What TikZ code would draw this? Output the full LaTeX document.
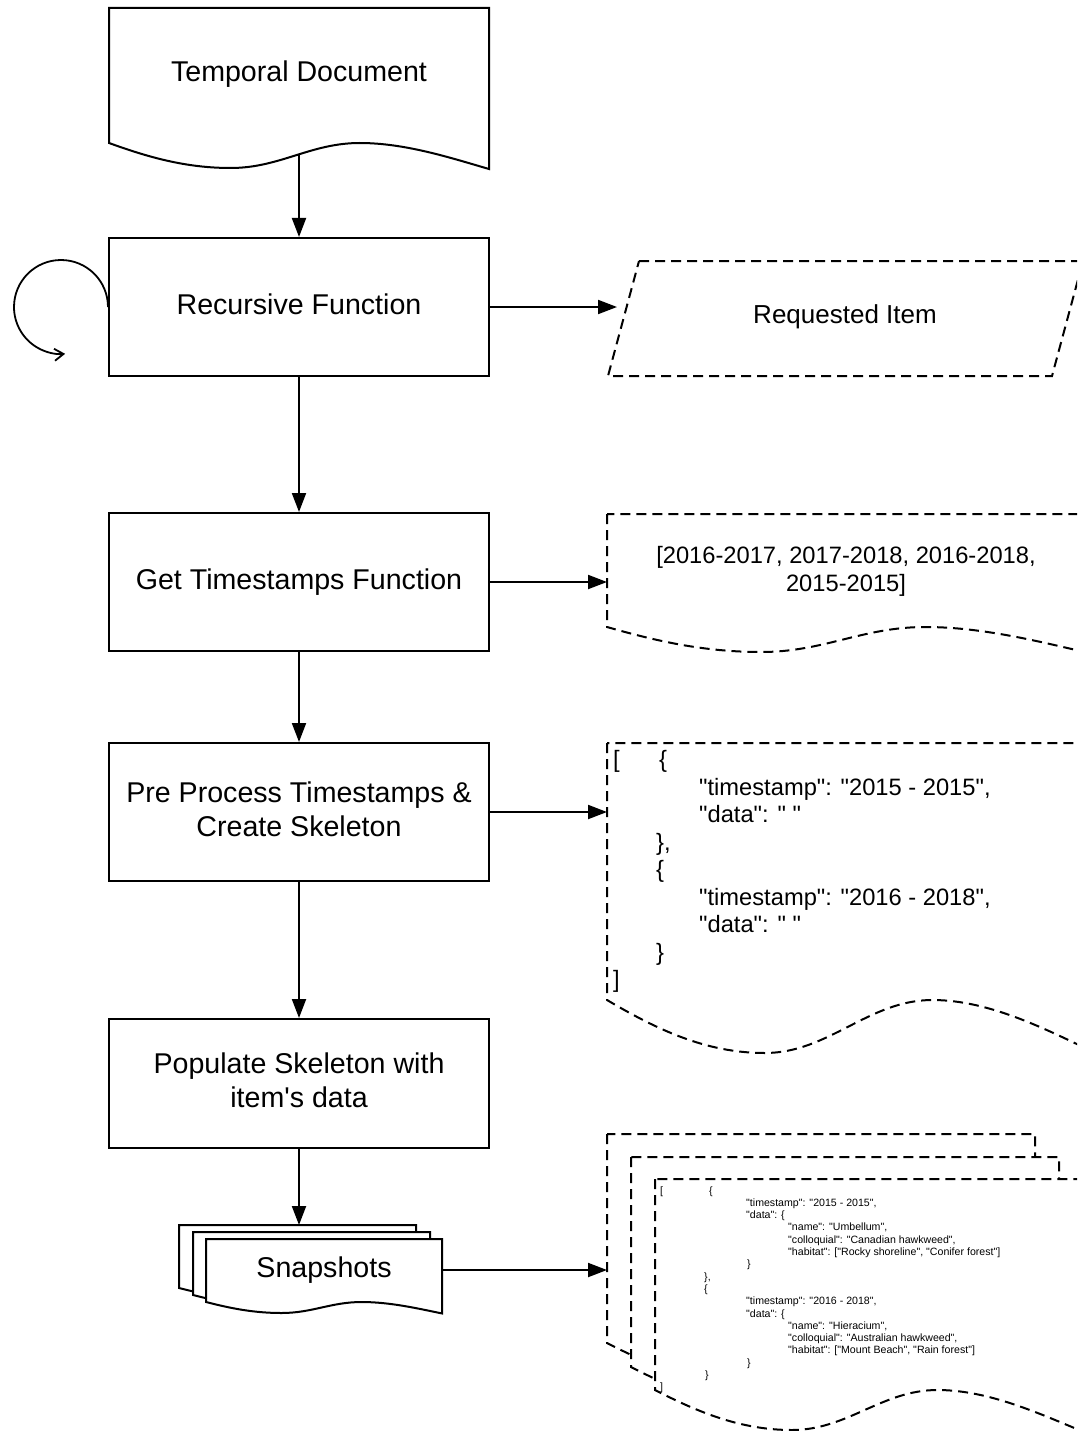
\documentclass[tikz,border=0pt]{standalone}
\usepackage{fontspec}
\newfontfamily\lsans{Liberation Sans}
\usetikzlibrary{arrows.meta}

% document shape with a wavy bottom edge:
% #1 style, #2 left x, #3 top y, #4 width, #5 y of the lower left corner, #6 wave depth
\newcommand\docshape[6]{%
  \path[#1] (#2,#3) -- (#2,#5)
    .. controls ({#2+0.10*#4},{#5+0.55*#6}) and ({#2+0.20*#4},{#5+#6}) .. ({#2+0.32*#4},{#5+#6})
    .. controls ({#2+0.45*#4},{#5+#6}) and ({#2+0.53*#4},#5) .. ({#2+0.66*#4},#5)
    .. controls ({#2+0.78*#4},#5) and ({#2+0.90*#4},{#5+0.60*#6}) .. ({#2+#4},{#5+1.04*#6})
    -- ({#2+#4},#3) -- cycle;}
% one line of a code listing, indented by #1 pt
\newcommand\jl[2]{\hbox{\kern#1pt\relax #2}}
% one centred line of zero width
\newcommand\cl[1]{\hbox to 0pt{\hss #1\hss}}

\begin{document}
\begin{tikzpicture}[x=1pt,y=-1pt,
  box/.style={draw, line width=2pt, minimum width=380pt, minimum height=138pt,
    inner sep=0pt, align=center, text depth=6pt,
    font=\lsans\fontsize{28.6pt}{34pt}\selectfont},
  flow/.style={line width=2pt, -{Triangle[length=19pt,width=14pt]}},
  docsolid/.style={draw, line width=2pt, fill=white},
  docdash/.style={draw, line width=2pt, dash pattern=on 10pt off 6pt, fill=white},
  bigtext/.style={inner sep=0pt, font=\lsans\fontsize{28.6pt}{34pt}\selectfont},
  midtext/.style={inner sep=0pt, font=\lsans\fontsize{23.7pt}{27.5pt}\selectfont},
  smalltext/.style={inner sep=0pt, font=\lsans\fontsize{10.6pt}{12.3pt}\selectfont}]
\useasboundingbox (0,0) rectangle (1077,1431);
\clip (0,0) rectangle (1077,1431);

% ---- left column -------------------------------------------------------
\docshape{docsolid}{109}{8}{380}{143}{25}
\node[bigtext, anchor=base] (tdoc) at (299,82) {Temporal Document};
\coordinate (tdout) at (299,155);

\node[box] (rf) at (299,307) {Recursive Function};
\node[box] (gts) at (299,582) {Get Timestamps Function};
\node[box] (pre) at (299,812) {Pre Process Timestamps \&\\Create Skeleton};
\node[box, minimum height=129pt] (pop) at (299,1083.5) {Populate Skeleton with\\item's data};

% stacked snapshots
\docshape{docsolid}{179}{1225}{237}{1288}{11}
\docshape{docsolid}{193}{1232}{237}{1295}{11}
\docshape{docsolid}{206}{1239}{236}{1302}{11}
\node[bigtext] (snap) at (324,1270) {Snapshots};
\coordinate (snapin) at (299,1225);
\coordinate (snapout) at (442,1270);

% ---- right column ------------------------------------------------------
\draw[docdash] (639,261) -- (1083,261) -- (1052,376) -- (608,376) -- cycle;
\node[inner sep=0pt, font=\lsans\fontsize{26pt}{30pt}\selectfont] (req) at (845,317) {Requested Item};
\coordinate (reqin) at (617,307);

\docshape{docdash}{607}{514}{482}{627}{25}
\node[midtext, anchor=base] (tslist) at (846,563)
  {\vtop{\baselineskip=28pt
    \cl{[2016-2017, 2017-2018, 2016-2018,}
    \cl{2015-2015]}}};
\coordinate (tsin) at (607,582);

\docshape{docdash}{607}{743}{493}{1000}{53}
\node[midtext, anchor=base west] (skel) at (613,767.5)
  {\vtop{\baselineskip=27.5pt
    \hbox{\makebox[46pt][l]{[}\{}
    \jl{86}{"timestamp": "2015 - 2015",}
    \jl{86}{"data": " "}
    \jl{43}{\},}
    \jl{43}{\{}
    \jl{86}{"timestamp": "2016 - 2018",}
    \jl{86}{"data": " "}
    \jl{43}{\}}
    \jl{0}{]}}};
\coordinate (skelin) at (607,812);

\docshape{docdash}{607}{1134}{428}{1343}{40}
\docshape{docdash}{631}{1157}{428}{1367}{40}
\docshape{docdash}{655}{1179}{428}{1390}{40}
\node[smalltext, anchor=base west] (snapdata) at (660,1194)
  {\vtop{\baselineskip=12.3pt
    \hbox{\makebox[49pt][l]{[}\{}
    \jl{86}{"timestamp": "2015 - 2015",}
    \jl{86}{"data": \{}
    \jl{128}{"name": "Umbellum",}
    \jl{128}{"colloquial": "Canadian hawkweed",}
    \jl{128}{"habitat": ["Rocky shoreline", "Conifer forest"]}
    \jl{87}{\}}
    \jl{44}{\},}
    \jl{44}{\{}
    \jl{86}{"timestamp": "2016 - 2018",}
    \jl{86}{"data": \{}
    \jl{128}{"name": "Hieracium",}
    \jl{128}{"colloquial": "Australian hawkweed",}
    \jl{128}{"habitat": ["Mount Beach", "Rain forest"]}
    \jl{87}{\}}
    \jl{45}{\}}
    \jl{0}{]}}};
\coordinate (snapdocin) at (607,1270);

% ---- connectors --------------------------------------------------------
\draw[flow] (tdout) -- (rf.north);
\draw[flow] (rf.south) -- (gts.north);
\draw[flow] (gts.south) -- (pre.north);
\draw[flow] (pre.south) -- (pop.north);
\draw[flow] (pop.south) -- (snapin);
\draw[flow] (rf.east) -- (reqin);
\draw[flow] (gts.east) -- (tsin);
\draw[flow] (pre.east) -- (skelin);
\draw[flow] (snapout) -- (snapdocin);
% recursion loop on the left side
\draw[line width=1.8pt, -{Straight Barb[length=9pt,width=12pt]}]
  (rf.west) arc[start angle=0, end angle=-275, radius=47];
\end{tikzpicture}
\end{document}
